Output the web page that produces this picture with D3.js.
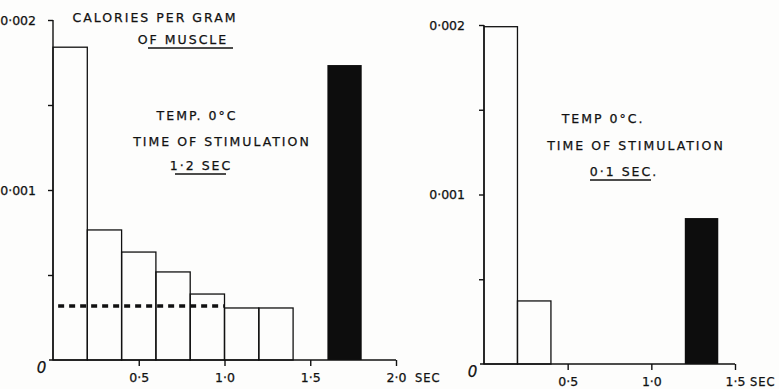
<!DOCTYPE html>
<html>
<head>
<meta charset="utf-8">
<script src="https://cdn.jsdelivr.net/npm/d3@7"></script>
<style>
  body { margin: 0; background: #fdfdfc; }
  svg { display: block; }
  text { font-family: "DejaVu Sans", sans-serif; fill: #111; stroke: #111; stroke-width: 0.25px; }
  .axis path, .axis line { stroke: #111; stroke-width: 1.4; }
  .axis text { font-size: 12.5px; }
  .label { font-size: 12.5px; letter-spacing: 2px; }
</style>
</head>
<body>
<svg class="chart"></svg>
<script>
// DATA /////////////////////////////////////////
// left panel: 1.2 sec stimulation, heat per 0.2 sec period
const leftStarts = [0, 0.2, 0.4, 0.6, 0.8, 1.0, 1.2];
const leftHeat = [0.00184, 0.000765, 0.000635, 0.000518, 0.000388, 0.000306, 0.000306];
const leftTotal = { start: 1.6, value: 0.001735 };
const leftDotted = { from: 0.03, to: 1.0, value: 0.000318 };

// right panel: 0.1 sec stimulation
const rightStarts = [0, 0.2];
const rightHeat = [0.00199, 0.000372];
const rightTotal = { start: 1.2, value: 0.000861 };

const binWidth = 0.2;
const yTicks = [0.0005, 0.001, 0.0015, 0.002];
const yLabels = { 0.001: "0·001", 0.002: "0·002" };
const leftXTicks = [0, 0.5, 1.0, 1.5, 2.0];
const rightXTicks = [0, 0.5, 1.0, 1.5];
const xLabels = { 0: "0", 0.5: "0·5", 1: "1·0", 1.5: "1·5", 2: "2·0" };

// DEFINITIONS //////////////////////////////////
const width = 779;
const height = 389;

const svg = d3.select(".chart").attr("width", width).attr("height", height);

const drawPanel = (opt) => {
  const x = d3.scaleLinear().domain([0, opt.xMax]).range(opt.xRange);
  const y = d3.scaleLinear().domain([0, 0.002]).range(opt.yRange);
  const g = svg.append("g");

  // bars
  g.selectAll(".bar")
    .data(opt.starts.map((s, i) => ({ s, v: opt.heat[i] })))
    .join("rect")
    .attr("x", (d) => x(d.s))
    .attr("y", (d) => y(d.v))
    .attr("width", (d) => x(d.s + binWidth) - x(d.s))
    .attr("height", (d) => y(0) - y(d.v))
    .attr("fill", "none")
    .attr("stroke", "#111")
    .attr("stroke-width", 1.3);

  // total heat (black bar)
  g.append("rect")
    .attr("x", x(opt.total.start))
    .attr("y", y(opt.total.value))
    .attr("width", x(opt.total.start + binWidth) - x(opt.total.start))
    .attr("height", y(0) - y(opt.total.value))
    .attr("fill", "#0d0d0d");

  // y axis
  const yAxis = g.append("g")
    .attr("class", "axis")
    .attr("transform", `translate(${x(0)},0)`)
    .call(d3.axisLeft(y).tickValues(yTicks).tickSize(5).tickSizeOuter(0)
      .tickPadding(opt.yPad).tickFormat((d) => yLabels[d] || ""));
  yAxis.select(".domain").attr("d", `M0,${y(0)}V${y(0.002)}`);

  // x axis
  const xAxis = g.append("g")
    .attr("class", "axis")
    .attr("transform", `translate(0,${y(0)})`)
    .call(d3.axisBottom(x).tickValues(opt.xTicks).tickSize(6).tickSizeOuter(0)
      .tickPadding(7).tickFormat((d) => xLabels[d]));
  xAxis.select(".domain").attr("d", `M${x(0) - 4},0H${x(opt.xMax)}`);
  xAxis.selectAll(".tick").filter((d) => d === 0).select("line").remove();
  xAxis.selectAll(".tick").filter((d) => d === 0).select("text")
    .attr("x", -12).attr("y", 2).style("font-size", "15px").style("font-style", "italic");

  g.append("text")
    .attr("x", x(opt.xMax) + opt.secGap)
    .attr("y", y(0) + 22)
    .style("font-size", "11.5px")
    .style("letter-spacing", "1px")
    .text("SEC");

  return { x, y, g };
};

// LEFT PANEL ///////////////////////////////////
const left = drawPanel({
  xMax: 2.0, xRange: [53, 396], yRange: [360, 20],
  starts: leftStarts, heat: leftHeat, total: leftTotal,
  xTicks: leftXTicks, yPad: 12, secGap: 19
});

left.g.append("line")
  .attr("x1", left.x(leftDotted.from))
  .attr("x2", left.x(leftDotted.to))
  .attr("y1", left.y(leftDotted.value))
  .attr("y2", left.y(leftDotted.value))
  .attr("stroke", "#111")
  .attr("stroke-width", 3.5)
  .attr("stroke-dasharray", "6,5");

const leftText = [
  { t: "CALORIES PER GRAM", x: 155, y: 22, u: false },
  { t: "OF MUSCLE", x: 183, y: 44, u: [148, 233] },
  { t: "TEMP. 0°C", x: 197, y: 120, u: false },
  { t: "TIME OF STIMULATION", x: 222, y: 146, u: false },
  { t: "1·2 SEC", x: 201, y: 170, u: [175, 226] }
];

// RIGHT PANEL //////////////////////////////////
const right = drawPanel({
  xMax: 1.5, xRange: [484, 735], yRange: [364, 25],
  starts: rightStarts, heat: rightHeat, total: rightTotal,
  xTicks: rightXTicks, yPad: 14, secGap: 15
});

const rightText = [
  { t: "TEMP 0°C.", x: 603, y: 123, u: false },
  { t: "TIME OF STIMULATION", x: 636, y: 150, u: false },
  { t: "0·1 SEC.", x: 624, y: 176, u: [590, 651] }
];

// LABELS ///////////////////////////////////////
[...leftText, ...rightText].forEach((d) => {
  svg.append("text")
    .attr("class", "label")
    .attr("x", d.x)
    .attr("y", d.y)
    .attr("text-anchor", "middle")
    .text(d.t);
  if (d.u) {
    svg.append("line")
      .attr("x1", d.u[0]).attr("x2", d.u[1])
      .attr("y1", d.y + 4).attr("y2", d.y + 4)
      .attr("stroke", "#111").attr("stroke-width", 1.3);
  }
});
</script>
</body>
</html>
